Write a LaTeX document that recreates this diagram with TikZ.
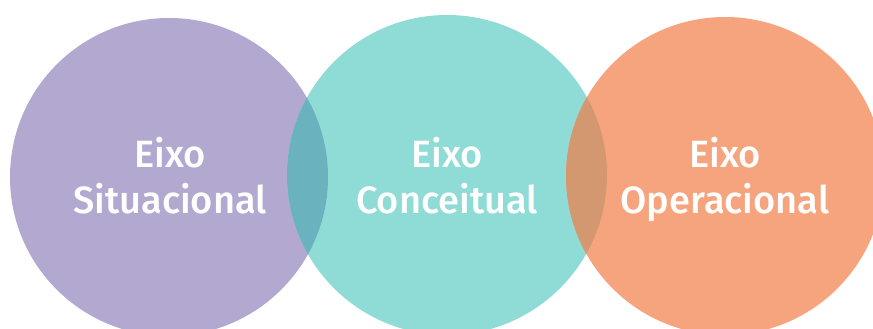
\documentclass[tikz,border=0pt]{standalone}
\usepackage{fontspec}
\setmainfont{Fira Sans}[BoldFont={Fira Sans Medium}]
\begin{document}
\begin{tikzpicture}[x=1pt,y=-1pt,
  label/.style={text=white,font=\fontsize{38}{46}\selectfont\bfseries,
    align=center,text depth=0.25em,inner sep=0pt}]
\definecolor{sitColor}{RGB}{179,168,208}
\definecolor{conColor}{RGB}{142,220,213}
\definecolor{opeColor}{RGB}{246,164,125}
\definecolor{sitConColor}{RGB}{105,178,190}
\definecolor{conOpeColor}{RGB}{212,152,113}
\useasboundingbox (0,0) rectangle (873,329);
\clip (0,0) rectangle (873,329);
% three discs
\fill[sitColor] (169,177) circle (159);
\fill[conColor] (447,175) circle (160);
\fill[opeColor] (725,176) circle (159);
% overlap lenses
\begin{scope}
  \clip (169,177) circle (159);
  \fill[sitConColor] (447,175) circle (160);
\end{scope}
\begin{scope}
  \clip (447,175) circle (160);
  \fill[conOpeColor] (725,176) circle (159);
\end{scope}
% labels
\node[label] (sit) at (170,177) {Eixo\\Situacional};
\node[label] (con) at (447,177) {Eixo\\Conceitual};
\node[label] (ope) at (725,177) {Eixo\\Operacional};
\end{tikzpicture}
\end{document}
